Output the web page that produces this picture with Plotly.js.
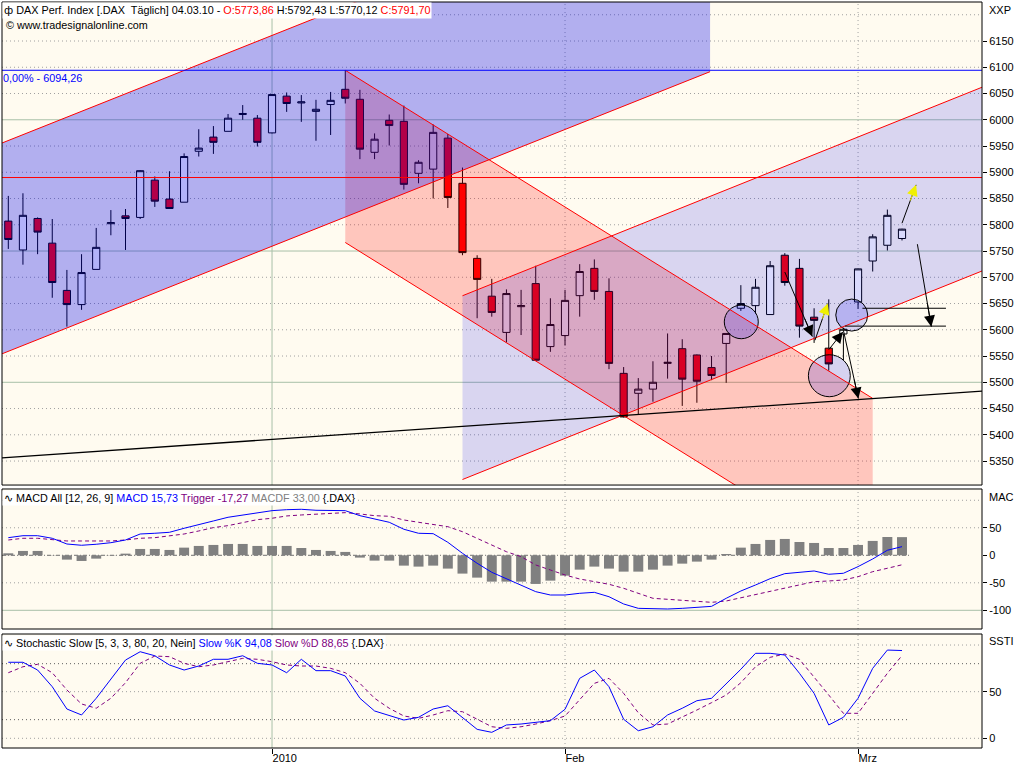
<!DOCTYPE html>
<html><head><meta charset="utf-8">
<script src="https://cdn.plot.ly/plotly-3.0.1.min.js"></script>
<style>html,body{margin:0;padding:0;background:#fff;}#chart{width:1024px;height:768px;}</style>
</head><body><div id="chart"></div>
<script>
const dates = ['2009-12-03','2009-12-04','2009-12-07','2009-12-08','2009-12-09','2009-12-10','2009-12-11','2009-12-14','2009-12-15','2009-12-16','2009-12-17','2009-12-18','2009-12-21','2009-12-22','2009-12-23','2009-12-28','2009-12-29','2009-12-30',
'2010-01-04','2010-01-05','2010-01-06','2010-01-07','2010-01-08','2010-01-11','2010-01-12','2010-01-13','2010-01-14','2010-01-15','2010-01-18','2010-01-19','2010-01-20','2010-01-21','2010-01-22','2010-01-25','2010-01-26','2010-01-27','2010-01-28','2010-01-29',
'2010-02-01','2010-02-02','2010-02-03','2010-02-04','2010-02-05','2010-02-08','2010-02-09','2010-02-10','2010-02-11','2010-02-12','2010-02-15','2010-02-16','2010-02-17','2010-02-18','2010-02-19','2010-02-22','2010-02-23','2010-02-24','2010-02-25','2010-02-26',
'2010-03-01','2010-03-02','2010-03-03','2010-03-04'];

const openP  = [5807,5752,5812,5765,5675,5648,5715,5802,5817,5814,5885,5849,5843,5940,5967,5978,6010,6003,5975,6045,6032,6016,6029,6058,6039,5938,5999,5997,5898,5906,5965,5879,5736,5664,5595,5644,5688,5568,5589,5665,5717,5673,5517,5479,5487,5536,5564,5552,5528,5574,5641,5646,5629,5742,5717,5624,5565,5592,5653,5731,5761,5773.86];
const highP  = [5855,5860,5814,5811,5714,5744,5794,5828,5830,5904,5892,5902,5936,5982,5988,6011,6028,6009,6048.5,6052,6047,6038,6053,6094.26,6057,5974,6010,6027,5923,5991,5973,5909,5742,5697,5677,5676,5722,5660,5676,5725,5734,5698,5529,5508,5540,5593,5582,5553,5550,5593,5685,5697,5731,5746,5735,5641,5658,5604,5716,5782,5829,5792.43];
const lowP   = [5754,5724,5744,5661,5606,5638,5715,5780,5752,5811,5834,5831,5843,5930,5935,5978,6000,5949,5974,6015,5996,5960,5971,6031,5925,5925,5951,5867,5879,5850,5832,5742,5622,5625,5576,5590,5542,5558,5570,5625,5657,5525,5433,5438,5463,5507,5455,5461,5504,5499,5636,5631,5629,5684,5585,5575,5522,5542,5640,5711,5751,5770.12];
const closeP = [5772,5818,5786,5690,5648,5709,5757,5804,5812,5903,5845,5831,5930,5946,5957,6003,6012,5957,6048,6031,6034,6020,6037,6041,5944,5963,5989,5877,5919,5976,5852,5747,5696,5633,5669,5646,5542,5610,5656,5711,5673,5536,5434,5487,5500,5538,5506,5502,5513,5593,5650,5681,5722,5690,5607,5618,5535,5601,5716,5777,5818,5791.70];

const macdLine = [32,35.6,35.6,30.9,20.5,18.2,20,22.9,27.8,38.7,40,41.8,49.1,56.4,62.4,69.1,73.3,76.4,81.1,82.9,83.6,81.8,81.8,81.1,72,66,60,47.3,40,39.3,23.6,3.6,-14.5,-30.9,-43.1,-54,-66.1,-72.2,-72.2,-69.1,-67.3,-75.3,-88.5,-96.4,-97.6,-97.6,-96.4,-94,-92.8,-78.2,-64.9,-54,-42.5,-33.4,-30.9,-28.5,-34.5,-32.7,-20.6,-6.7,9.1,15.73];
const triggerLine = [27.8,30.9,30.9,29,26,26,26,26,27.8,30.9,32,35.6,38.7,44.2,50.3,53.9,60,64.8,67.3,71.5,73.3,74.5,75.1,77.5,75.1,72,70.9,64.2,60,56.4,52,42.9,30.9,18.7,6.5,-2.5,-17.6,-26.7,-35.8,-43.1,-48,-52.7,-60,-69.1,-78.2,-80,-81.8,-84.4,-85.5,-83.1,-77.1,-72.2,-66.2,-58.9,-54,-48,-46.7,-44.9,-38.9,-29.8,-23.6,-17.27];
const macdHist = [3.6,7.9,7.9,0.5,-7.9,-10.3,-6.1,-0.5,3,11.5,11.5,9.7,13.9,17,18.8,20.6,20.6,17,17,17,13.3,9.7,7.9,6.1,-4.2,-9.7,-9.7,-18.8,-20.6,-18.8,-24.2,-33.3,-40.6,-47.9,-47.9,-47.9,-52.1,-46.1,-37,-26.1,-20.6,-24.2,-29.7,-29.7,-26.1,-18.8,-15.2,-11.5,-7.9,2.4,13.9,20.6,27.9,29.7,24.2,22.4,13.3,13.3,18.8,26.1,33.3,33.0];

const stochK = [81.5,81.5,73.2,55.3,31.4,25,42.9,63.2,83.9,92.8,88.5,78.6,73.2,77.5,84.7,84.7,88.5,80.4,78.6,70.3,84.7,72.5,72.5,66.8,42.9,29.3,24.2,19.6,22.5,31.4,34.9,22.5,9.6,6.4,14.3,15.3,16.7,18.9,31.1,64.3,73.2,55.3,20.4,8.1,12.4,25,32.2,40.3,42.9,58.2,74,91.1,91.1,89.3,69.7,48.2,14.3,22.5,42.9,75,94.6,94.08];
const stochD = [70.3,76.7,79.3,70.3,51.8,36.8,32.2,42.9,59.6,80.4,88.2,87.5,80.4,76.7,78.6,82.1,85.7,84.7,82.1,78.6,77.5,77.5,75,70.3,58.9,42.9,32.2,23.9,21.4,25,29.6,28.5,20.4,12.4,10.7,12.4,15.3,18.9,23.9,41,58.9,64.3,48.2,27.4,14.3,15.3,22.5,30.3,38.2,46.4,59.6,76.7,86.8,90.4,84.7,66,46.4,26.8,26.8,48.2,69.7,88.65];

const timeTickDates = ['2010-01-04','2010-02-01','2010-03-01'];
const timeTickText = ['2010','Feb','Mrz'];
const priceTicks = [5350,5400,5450,5500,5550,5600,5650,5700,5750,5800,5850,5900,5950,6000,6050,6100,6150];
const macdTicks = [-100,-50,0,50];
const stochTicks = [0,50];

// drawing tools (in bar index / price units)
const blueChannel = {x0:-5, x1:47.9, low0:5503.4, low1:6091.6, width:401.5};
const pinkChannel = {x0:23, x1:59, up0:6094.26, up1:5469.3, width:328};
const lavChannel  = {x0:31, x1:70, low0:5314.8, low1:5751.6, width:350};
const trendLine   = {x0:-1, x1:67, y0:5355.1, y1:5484.3};
const highLevel = 6094.26, redLevel = 5890;
const shortLevels = [{y:5641, x0:58.3, x1:64}, {y:5607, x0:57.1, x1:64}];
const circles = [{x:50.03,y:5615,rx:1.16,ry:32},{x:57.57,y:5628,rx:1.09,ry:30.5},{x:56.04,y:5512.5,rx:1.43,ry:40}];
const arrows = [
 {x0:53.0,y0:5710,x1:54.88,y1:5587,c:'black'},
 {x0:55.06,y0:5580,x1:55.93,y1:5650,c:'yellow'},
 {x0:56.0,y0:5562,x1:56.96,y1:5596,c:'black'},
 {x0:57.0,y0:5599,x1:58.02,y1:5469,c:'black'},
 {x0:61.0,y0:5803,x1:61.96,y1:5876,c:'yellow'},
 {x0:62.05,y0:5763,x1:63.0,y1:5606,c:'black'}
];

const lastIdx = dates.length - 1;
const FONT = 'Liberation Sans, Arial, sans-serif';

const traces = [
 {type:'candlestick', x:dates, open:openP, high:highP, low:lowP, close:closeP, xaxis:'x', yaxis:'y',
  increasing:{line:{color:'#000000',width:1}, fillcolor:'#ffffff'},
  decreasing:{line:{color:'#000000',width:1}, fillcolor:'#ff0000'},
  whiskerwidth:0, hoverinfo:'skip'},
 {type:'bar', x:dates, y:macdHist, xaxis:'x', yaxis:'y2', width:0.68, marker:{color:'#808080', line:{width:0}}, hoverinfo:'skip'},
 {type:'scatter', mode:'lines', x:dates, y:triggerLine, xaxis:'x', yaxis:'y2', line:{color:'#800080', width:1, dash:'4px,3px'}, hoverinfo:'skip'},
 {type:'scatter', mode:'lines', x:dates, y:macdLine, xaxis:'x', yaxis:'y2', line:{color:'#0000ff', width:1}, hoverinfo:'skip'},
 {type:'scatter', mode:'lines', x:dates, y:stochD, xaxis:'x', yaxis:'y3', line:{color:'#800080', width:1, dash:'4px,3px'}, hoverinfo:'skip'},
 {type:'scatter', mode:'lines', x:dates, y:stochK, xaxis:'x', yaxis:'y3', line:{color:'#0000ff', width:1}, hoverinfo:'skip'}
];

const shapes = [];
const DOT = {color:'#a0a0a0', width:1, dash:'1px,3px'};
const SOLID = {color:'#a8c0a8', width:1};
function hl(yref, y, style, x0, x1){
  if (x0 === undefined) shapes.push({type:'line', xref:'x domain', yref:yref, x0:0, x1:1, y0:y, y1:y, line:style, layer:'below'});
  else shapes.push({type:'line', xref:'x', yref:yref, x0:x0, x1:x1, y0:y, y1:y, line:style, layer:'below'});
}
// price grid
for (let v = 5350; v <= 6200; v += 50) hl('y', v, (v===5500||v===5750||v===6000) ? SOLID : DOT);
// macd grid
[100,50,-50].forEach(v=>hl('y2', v, DOT));
hl('y2', -100, SOLID);
hl('y2', 0, {color:'#707070', width:1, dash:'4px,2px,1px,2px'}, -0.43, lastIdx+0.5);
// stoch grid
[100,50,0].forEach(v=>hl('y3', v, DOT));
hl('y3', 80, {color:'#606060', width:1, dash:'1px,3px'});
hl('y3', 20, {color:'#606060', width:1, dash:'1px,3px'}, -0.43, lastIdx+0.5);
// vertical month lines
['y','y2','y3'].forEach(yr=>{
  timeTickDates.forEach((d,k)=>{
    const xi = dates.indexOf(d);
    shapes.push({type:'line', xref:'x', yref:yr+' domain', x0:xi, x1:xi, y0:0, y1:1, line: k===0 ? SOLID : DOT, layer:'below'});
  });
});

// channel fills (translucent, on top of candles)
function band(x0,x1,a0,a1,w,lowerGiven){
  const s = lowerGiven ? 1 : -1;
  return `M ${x0},${a0} L ${x1},${a1} L ${x1},${a1+s*w} L ${x0},${a0+s*w} Z`;
}
shapes.push({type:'path', xref:'x', yref:'y', path:band(pinkChannel.x0,pinkChannel.x1,pinkChannel.up0,pinkChannel.up1,pinkChannel.width,false), fillcolor:'rgba(255,0,0,0.21)', line:{width:0}, layer:'above'});
shapes.push({type:'path', xref:'x', yref:'y', path:band(blueChannel.x0,blueChannel.x1,blueChannel.low0,blueChannel.low1,blueChannel.width,true), fillcolor:'rgba(0,0,240,0.30)', line:{width:0}, layer:'above'});
shapes.push({type:'path', xref:'x', yref:'y', path:band(lavChannel.x0,lavChannel.x1,lavChannel.low0,lavChannel.low1,lavChannel.width,true), fillcolor:'rgba(0,0,240,0.15)', line:{width:0}, layer:'above'});
// circles
circles.forEach(c=>shapes.push({type:'circle', xref:'x', yref:'y', x0:c.x-c.rx, x1:c.x+c.rx, y0:c.y-c.ry, y1:c.y+c.ry, fillcolor:'rgba(0,0,240,0.16)', line:{color:'#000000', width:1}, layer:'above'}));
// channel border lines
const RED = {color:'#ff0000', width:1};
function seg(x0,y0,x1,y1,style){ shapes.push({type:'line', xref:'x', yref:'y', x0:x0, y0:y0, x1:x1, y1:y1, line:style, layer:'above'}); }
seg(blueChannel.x0, blueChannel.low0, blueChannel.x1, blueChannel.low1, RED);
seg(blueChannel.x0, blueChannel.low0+blueChannel.width, blueChannel.x1, blueChannel.low1+blueChannel.width, RED);
seg(pinkChannel.x0, pinkChannel.up0, pinkChannel.x1, pinkChannel.up1, RED);
seg(pinkChannel.x0, pinkChannel.up0-pinkChannel.width, pinkChannel.x1, pinkChannel.up1-pinkChannel.width, RED);
seg(lavChannel.x0, lavChannel.low0, lavChannel.x1, lavChannel.low1, RED);
seg(lavChannel.x0, lavChannel.low0+lavChannel.width, lavChannel.x1, lavChannel.low1+lavChannel.width, RED);
shapes.push({type:'line', xref:'x domain', yref:'y', x0:0, x1:1, y0:highLevel, y1:highLevel, line:{color:'#0000ff', width:1}, layer:'above'});
shapes.push({type:'line', xref:'x domain', yref:'y', x0:0, x1:1, y0:redLevel, y1:redLevel, line:{color:'#ff0000', width:1}, layer:'above'});
seg(trendLine.x0, trendLine.y0, trendLine.x1, trendLine.y1, {color:'#000000', width:1.3});
shortLevels.forEach(s=>seg(s.x0, s.y, s.x1, s.y, {color:'#000000', width:1}));
arrows.forEach(a=>seg(a.x0,a.y0,a.x1,a.y1,{color:'#000000', width:1}));

// panel borders
const domP = [0.3525,1], domM = [0.1595,0.3472], domS = [0,0.1528];
[domP,domM,domS].forEach(d=>shapes.push({type:'rect', xref:'paper', yref:'paper', x0:0, x1:1, y0:d[0], y1:d[1], line:{color:'#000000', width:1}, fillcolor:'rgba(0,0,0,0)', layer:'above'}));

const annotations = [];
const LBL = 10.8;
function txt(text, x, y, xa, ya, opts){
  annotations.push(Object.assign({xref:'paper', yref:'paper', x:x, y:y, xanchor:xa, yanchor:ya, text:text, showarrow:false, font:{family:FONT, size:LBL, color:'#000'}, align:'left'}, opts||{}));
}
txt('<span style="font-family:DejaVu Sans">ф</span> DAX Perf. Index [.DAX \u00a0Täglich] 04.03.10 - <span style="color:#ff0000">O:5773,86</span> H:5792,43 L:5770,12 <span style="color:#ff0000">C:5791,70</span>', 0, 1, 'left', 'top', {bgcolor:'#ffffff', borderpad:1});
txt('© www.tradesignalonline.com', 0.002, 0.9692, 'left', 'middle');
txt('0,00% - 6094,26', -0.001, 0.8981, 'left', 'middle', {font:{family:FONT, size:LBL, color:'#0000ff'}});
txt('XXP', 1.0051, 0.9893, 'left', 'middle', {font:{family:FONT, size:11, color:'#000'}});
txt('∿ MACD All [12, 26, 9] <span style="color:#0000ff">MACD 15,73</span> <span style="color:#800080">Trigger -17,27</span> <span style="color:#808080">MACDF 33,00</span> {.DAX}', 0, 0.3458, 'left', 'top', {bgcolor:'#ffffff', borderpad:1});
txt('MAC', 1.0051, 0.3365, 'left', 'middle', {font:{family:FONT, size:11, color:'#000'}});
txt('∿ Stochastic Slow [5, 3, 3, 80, 20, Nein] <span style="color:#0000ff">Slow %K 94,08</span> <span style="color:#800080">Slow %D 88,65</span> {.DAX}', 0, 0.1515, 'left', 'top', {bgcolor:'#ffffff', borderpad:1});
txt('SSTI', 1.0051, 0.1434, 'left', 'middle', {font:{family:FONT, size:11, color:'#000'}});

// arrow heads
arrows.forEach(a=>{
  const f = a.c==='yellow' ? 0.45 : 0.3;
  annotations.push({xref:'x', yref:'y', axref:'x', ayref:'y', x:a.x1, y:a.y1, ax:a.x1-(a.x1-a.x0)*f, ay:a.y1-(a.y1-a.y0)*f, text:'', showarrow:true, arrowhead:2, arrowsize:2.2, arrowwidth:1, arrowcolor: a.c==='yellow' ? '#f0f000' : '#000000'});
});

const axisCommon = {showgrid:false, zeroline:false, showline:false, ticks:'outside', ticklen:4, tickcolor:'#000', tickfont:{family:FONT, size:11, color:'#000'}, fixedrange:true};
const layout = {
  width:1024, height:768, margin:{l:2, r:42, t:2, b:20}, paper_bgcolor:'#ffffff', plot_bgcolor:'#fffbf0', showlegend:false,
  font:{family:FONT, size:11, color:'#000'}, boxgap:0.3, bargap:0.3,
  xaxis:{type:'category', range:[-0.43,66.46], anchor:'y3', domain:[0,1], tickmode:'array', tickvals:timeTickDates, ticktext:timeTickText,
    ticks:'outside', ticklen:5, tickcolor:'#000', ticklabelposition:'outside right', showgrid:false, zeroline:false, showline:false,
    rangeslider:{visible:false}, fixedrange:true, tickfont:{family:FONT, size:11, color:'#000'}},
  yaxis:Object.assign({}, axisCommon, {domain:domP, range:[5304.3,6224.3], side:'right', anchor:'x', tickmode:'array', tickvals:priceTicks, ticktext:priceTicks.map(String)}),
  yaxis2:Object.assign({}, axisCommon, {domain:domM, range:[-134,120.5], side:'right', anchor:'x', tickmode:'array', tickvals:macdTicks, ticktext:macdTicks.map(String)}),
  yaxis3:Object.assign({}, axisCommon, {domain:domS, range:[-10.4,111.8], side:'right', anchor:'x', tickmode:'array', tickvals:stochTicks, ticktext:stochTicks.map(String)}),
  shapes:shapes, annotations:annotations
};
Plotly.newPlot('chart', traces, layout, {staticPlot:true, displayModeBar:false});
</script></body></html>
